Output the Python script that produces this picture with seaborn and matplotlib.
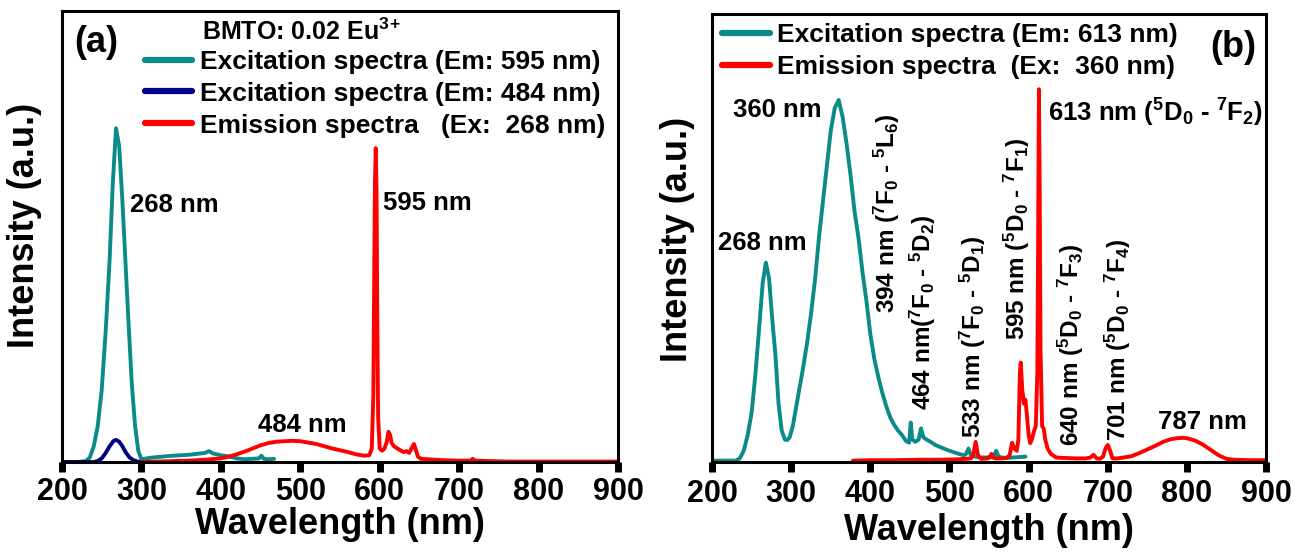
import matplotlib
matplotlib.use("Agg")
import matplotlib.pyplot as plt
import seaborn as sns

# ---------------- Panel (a): BMTO:0.02Eu3+ ----------------
# Excitation spectrum monitored at 595 nm
a_exc595_nm = [200, 220, 230, 235, 240, 245, 250, 255, 260, 264, 268, 272, 276, 280,
               284, 288, 292, 296, 300, 310, 320, 340, 360, 380, 385, 390, 400, 410,
               420, 430, 440, 448, 451, 454, 460, 467]
a_exc595_int = [0.0, 0.0, 0.002, 0.01, 0.035, 0.08, 0.16, 0.29, 0.45, 0.62, 0.74, 0.70,
                0.58, 0.44, 0.30, 0.17, 0.08, 0.025, 0.006, 0.009, 0.011, 0.014, 0.016,
                0.02, 0.024, 0.019, 0.015, 0.012, 0.008, 0.006, 0.007, 0.008, 0.014,
                0.007, 0.006, 0.007]

# Excitation spectrum monitored at 484 nm
a_exc484_nm = [200, 230, 240, 245, 250, 255, 260, 265, 268, 272, 276, 280, 285, 290,
               295, 300]
a_exc484_int = [0.0, 0.0, 0.0, 0.002, 0.008, 0.02, 0.035, 0.047, 0.049, 0.045, 0.035,
                0.022, 0.01, 0.004, 0.001, 0.0]

# Emission spectrum under 268 nm excitation
a_em268_nm = [300, 320, 340, 360, 380, 400, 410, 420, 430, 440, 450, 460, 470, 480, 490,
              500, 510, 520, 530, 540, 550, 560, 570, 580, 587, 590, 592, 593, 594, 595,
              596, 597, 598, 600, 603, 606, 609, 611, 613, 615, 618, 622, 626, 630, 634,
              637, 640, 643, 645, 648, 652, 660, 670, 680, 700, 714, 717, 720, 740, 760,
              800, 850, 900]
a_em268_int = [0.0, 0.001, 0.002, 0.003, 0.005, 0.008, 0.012, 0.017, 0.023, 0.03, 0.037,
               0.042, 0.045, 0.046, 0.047, 0.046, 0.043, 0.04, 0.035, 0.03, 0.026, 0.022,
               0.017, 0.014, 0.015, 0.03, 0.15, 0.4, 0.62, 0.696, 0.6, 0.3, 0.1, 0.03,
               0.025, 0.03, 0.045, 0.067, 0.06, 0.042, 0.035, 0.03, 0.026, 0.022, 0.024,
               0.02, 0.03, 0.04, 0.03, 0.012, 0.007, 0.006, 0.005, 0.004, 0.003, 0.003,
               0.007, 0.003, 0.002, 0.001, 0.001, 0.001, 0.001]

# ---------------- Panel (b) ----------------
# Excitation spectrum monitored at 613 nm
b_exc613_nm = [200, 220, 230, 235, 240, 245, 250, 255, 260, 264, 268, 272, 276, 280, 284,
               288, 292, 295, 298, 302, 306, 310, 315, 320, 325, 330, 335, 340, 345, 350,
               355, 360, 365, 370, 375, 380, 385, 390, 395, 400, 405, 410, 415, 420, 425,
               430, 435, 440, 445, 449, 451, 453, 457, 461, 464, 467, 471, 476, 482, 490,
               497, 505, 512, 518, 521, 524, 527, 532, 539, 546, 553, 556, 559, 562, 566,
               572, 580, 589, 596]
b_exc613_int = [0.003, 0.003, 0.003, 0.008, 0.025, 0.06, 0.11, 0.2, 0.31, 0.4, 0.445,
                0.41, 0.32, 0.24, 0.13, 0.07, 0.05, 0.049, 0.055, 0.08, 0.12, 0.16, 0.21,
                0.265, 0.33, 0.405, 0.5, 0.58, 0.66, 0.74, 0.79, 0.808, 0.77, 0.71, 0.64,
                0.56, 0.5, 0.425, 0.36, 0.285, 0.23, 0.19, 0.155, 0.125, 0.1, 0.083,
                0.07, 0.06, 0.047, 0.043, 0.088, 0.05, 0.045, 0.05, 0.075, 0.055, 0.05,
                0.045, 0.038, 0.032, 0.027, 0.022, 0.018, 0.015, 0.018, 0.03, 0.015,
                0.012, 0.01, 0.01, 0.01, 0.012, 0.025, 0.012, 0.01, 0.009, 0.01, 0.011,
                0.012]

# Emission spectrum under 360 nm excitation
b_em360_nm = [378, 400, 430, 460, 490, 510, 520, 527, 530, 533, 536, 540, 548, 551, 553,
              555, 558, 565, 572, 576, 579, 582, 585, 587, 589, 590, 592, 594, 596, 598,
              600, 602, 604, 607, 609, 611, 612, 613, 614, 615, 617, 619, 621, 624, 628,
              635, 645, 660, 672, 678, 682, 686, 690, 694, 697, 700, 703, 706, 712, 720,
              730, 740, 750, 760, 770, 780, 787, 795, 800, 810, 820, 830, 840, 850, 860,
              880, 900]
b_em360_int = [0.003, 0.004, 0.004, 0.005, 0.005, 0.006, 0.007, 0.008, 0.015, 0.045,
               0.015, 0.007, 0.008, 0.012, 0.018, 0.01, 0.008, 0.008, 0.009, 0.015,
               0.043, 0.03, 0.025, 0.05, 0.2, 0.222, 0.16, 0.13, 0.139, 0.1, 0.06, 0.042,
               0.05, 0.07, 0.08, 0.2, 0.5, 0.832, 0.6, 0.25, 0.08, 0.075, 0.05, 0.03,
               0.018, 0.01, 0.009, 0.008, 0.008, 0.01, 0.016, 0.008, 0.007, 0.012, 0.03,
               0.038, 0.025, 0.008, 0.008, 0.01, 0.013, 0.02, 0.028, 0.036, 0.045, 0.051,
               0.053, 0.054, 0.053, 0.048, 0.039, 0.027, 0.015, 0.007, 0.005, 0.004,
               0.004]

x_ticks = [200, 300, 400, 500, 600, 700, 800, 900]

TEAL = "#0A8A88"
NAVY = "#000089"
RED = "#FF0000"

sns.set_style("white")
plt.rcParams["font.family"] = ["Liberation Sans", "DejaVu Sans"]
plt.rcParams["font.weight"] = "bold"
plt.rcParams["mathtext.default"] = "regular"
plt.rcParams["text.color"] = "black"
plt.rcParams["axes.labelcolor"] = "black"
plt.rcParams["xtick.color"] = "black"
plt.rcParams["xtick.labelcolor"] = "black"

fig = plt.figure(figsize=(13.07, 5.55), dpi=100)
ax_a = fig.add_axes([0.04744, 0.1676, 0.4254, 0.8126])
ax_b = fig.add_axes([0.5448, 0.1676, 0.4239, 0.8072])

LW = 2.8
sns.lineplot(x=a_exc595_nm, y=a_exc595_int, ax=ax_a, color=TEAL, lw=LW, sort=False,
             estimator=None, label="Excitation spectra (Em: 595 nm)")
sns.lineplot(x=a_exc484_nm, y=a_exc484_int, ax=ax_a, color=NAVY, lw=LW, sort=False,
             estimator=None, label="Excitation spectra (Em: 484 nm)")
sns.lineplot(x=a_em268_nm, y=a_em268_int, ax=ax_a, color=RED, lw=LW, sort=False,
             estimator=None, label="Emission spectra   (Ex:  268 nm)")

sns.lineplot(x=b_exc613_nm, y=b_exc613_int, ax=ax_b, color=TEAL, lw=LW, sort=False,
             estimator=None, label="Excitation spectra (Em: 613 nm)")
sns.lineplot(x=b_em360_nm, y=b_em360_int, ax=ax_b, color=RED, lw=LW, sort=False,
             estimator=None, label="Emission spectra  (Ex:  360 nm)")


def style_axes(ax, ylabel_xy, xlabel_y, tick_pad):
    ax.set_xlim(200, 900)
    ax.set_ylim(0, 1)
    ax.set_xticks(x_ticks)
    ax.set_yticks([])
    for sp in ax.spines.values():
        sp.set_visible(True)
        sp.set_color("black")
        sp.set_linewidth(2.2)
    ax.tick_params(axis="x", direction="out", length=7, width=5, color="black",
                   labelcolor="black", labelsize=22, pad=tick_pad, bottom=True)
    for lbl in ax.get_xticklabels():
        lbl.set_fontweight("bold")
    ax.set_xlabel("Wavelength (nm)", fontsize=26, fontweight="bold", color="black")
    ax.set_ylabel("Intensity (a.u.)", fontsize=26, fontweight="bold", color="black")
    ax.xaxis.set_label_coords(0.5, xlabel_y)
    ax.yaxis.set_label_coords(*ylabel_xy)


style_axes(ax_a, (-0.036, 0.525), -0.10, 4)
style_axes(ax_b, (-0.031, 0.496), -0.113, 5.5)

leg_kw = dict(loc="upper left", frameon=False, borderpad=0, borderaxespad=0,
              handlelength=1.8, handletextpad=0.3, labelspacing=0.3,
              prop={"weight": "bold", "size": 19})
leg_a = ax_a.legend(bbox_to_anchor=(0.149, 0.914), **leg_kw)
leg_b = ax_b.legend(bbox_to_anchor=(0.018, 0.98), **leg_kw)
for leg in (leg_a, leg_b):
    for ln in leg.get_lines():
        ln.set_linewidth(4.5)
    for t in leg.get_texts():
        t.set_color("black")

ANN = dict(fontsize=18.5, fontweight="bold", color="black")
VANN = dict(fontsize=17.5, fontweight="bold", color="black")

# Panel (a) labels
ax_a.text(243, 0.931, "(a)", fontsize=26, fontweight="bold", ha="center", va="center")
ax_a.text(376, 0.953, r"BMTO: 0.02 Eu$^{3\!+}$", fontsize=18, fontweight="bold",
          ha="left", va="center")
ax_a.text(285.6, 0.57, "268 nm", ha="left", va="center", **ANN)
ax_a.text(604, 0.574, "595 nm", ha="left", va="center", **ANN)
ax_a.text(503, 0.082, "484 nm", ha="center", va="center", **ANN)

# Panel (b) labels
ax_b.text(858, 0.926, "(b)", fontsize=26, fontweight="bold", ha="center", va="center")
ax_b.text(283, 0.786, "360 nm", ha="center", va="center", **ANN)
ax_b.text(263, 0.489, "268 nm", ha="center", va="center", **ANN)
ax_b.text(624.6, 0.779, "613 nm ($^{5}$D$_{0}$ - $^{7}$F$_{2}$)", ha="left",
          va="center", **ANN)
ax_b.text(820, 0.09, "787 nm", ha="center", va="center", **ANN)

vertical_labels = [
    (421, 0.333, "394 nm ($^{7}$F$_{0}$ - $^{5}$L$_{6}$)"),
    (466.6, 0.116, "464 nm($^{7}$F$_{0}$ - $^{5}$D$_{2}$)"),
    (530, 0.054, "533 nm ($^{7}$F$_{0}$ - $^{5}$D$_{1}$)"),
    (585, 0.272, "595 nm ($^{5}$D$_{0}$ - $^{7}$F$_{1}$)"),
    (653.5, 0.036, "640 nm ($^{5}$D$_{0}$ - $^{7}$F$_{3}$)"),
    (713, 0.047, "701 nm ($^{5}$D$_{0}$ - $^{7}$F$_{4}$)"),
]
for xv, yv, txt in vertical_labels:
    ax_b.text(xv, yv, txt, rotation=90, ha="center", va="bottom", **VANN)

fig.savefig("out.png", dpi=100)
